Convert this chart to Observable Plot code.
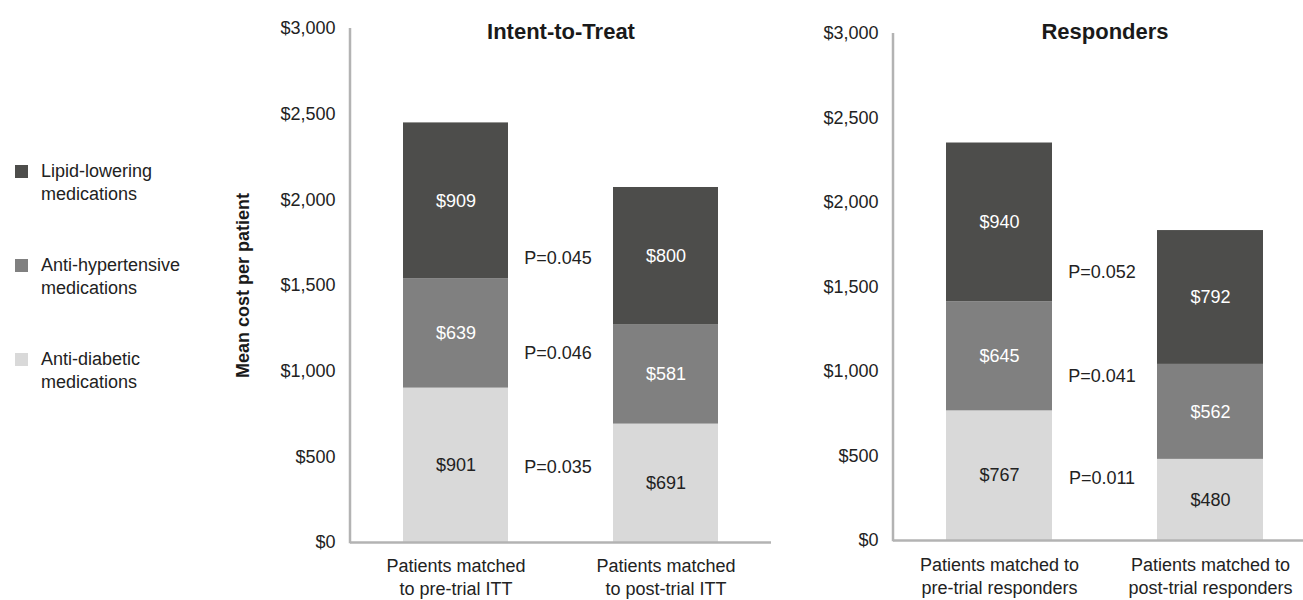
<!DOCTYPE html>
<html><head><meta charset="utf-8">
<script src="https://cdn.jsdelivr.net/npm/d3@7"></script>
<script src="https://cdn.jsdelivr.net/npm/@observablehq/plot@0.6"></script>
<style>
html,body{margin:0;padding:0;background:#fff;overflow:hidden;}
#root{position:relative;width:1303px;height:600px;font-family:"Liberation Sans",Arial,Helvetica,sans-serif;color:#222;}
.panel{position:absolute;top:0;}
.panel svg{max-width:none;display:block;}
.legend-item{position:absolute;left:0;font-size:18px;line-height:23px;color:#222;}
.sw{position:absolute;left:15px;top:5px;width:13px;height:13px;}
.lt{position:absolute;left:41px;top:0;white-space:nowrap;}
</style></head><body><div id="root"></div>
<script>
// ---- data ----
const series = ["Anti-diabetic medications", "Anti-hypertensive medications", "Lipid-lowering medications"];
const seriesColors = ["#d9d9d9", "#808080", "#4d4d4b"];
const legendOrder = ["Lipid-lowering medications", "Anti-hypertensive medications", "Anti-diabetic medications"];
const legendLines = [["Lipid-lowering", "medications"], ["Anti-hypertensive", "medications"], ["Anti-diabetic", "medications"]];

const ittGroups = ["Patients matched\nto pre-trial ITT", "Patients matched\nto post-trial ITT"];
const ittDiabetic = [901, 691];
const ittHyper = [639, 581];
const ittLipid = [909, 800];
const ittPLabels = ["P=0.045", "P=0.046", "P=0.035"];
const ittPLevels = [1658, 1103, 438];

const respGroups = ["Patients matched to\npre-trial responders", "Patients matched to\npost-trial responders"];
const respDiabetic = [767, 480];
const respHyper = [645, 562];
const respLipid = [940, 792];
const respPLabels = ["P=0.052", "P=0.041", "P=0.011"];
const respPLevels = [1586, 970, 367];

const yTicks = [0, 500, 1000, 1500, 2000, 2500, 3000];
const panelTitles = ["Intent-to-Treat", "Responders"];
const yLabel = "Mean cost per patient";

// ---- build ----
const FONT = '"Liberation Sans", Arial, Helvetica, sans-serif';
const AXIS = "#b3b3b3";
const fmt = d => "$" + d3.format(",")(d);

function rowsFor(groups, diab, hyper, lipid) {
  const rows = [];
  groups.forEach((g, i) => {
    rows.push({group: g, series: series[0], value: diab[i]});
    rows.push({group: g, series: series[1], value: hyper[i]});
    rows.push({group: g, series: series[2], value: lipid[i]});
  });
  return rows;
}

function panel({groups, rows, pLabels, pLevels, title, width, marginLeft, marginRight, marginTop, marginBottom, titleDy, xPad, withYLabel}) {
  const pData = pLabels.map((t, i) => ({text: t, y: pLevels[i]}));
  const marks = [
    Plot.barY(rows, {x: "group", y: "value", fill: "series"}),
    Plot.text(rows, Plot.stackY({x: "group", y: "value", z: "series",
      text: d => d.series === series[0] ? "" : fmt(d.value), fill: "white", fontSize: 18})),
    Plot.text(rows, Plot.stackY({x: "group", y: "value", z: "series",
      text: d => d.series === series[0] ? fmt(d.value) : "", fill: "#222", fontSize: 18})),
    Plot.ruleY([0], {stroke: AXIS, strokeWidth: 2.5}),
    (index, scales, values, dims) => d3.create("svg:line")
      .attr("x1", dims.marginLeft).attr("x2", dims.marginLeft)
      .attr("y1", scales.y(3000)).attr("y2", scales.y(0) + 1.25)
      .attr("stroke", AXIS).attr("stroke-width", 2.5).node(),
    Plot.axisY({ticks: yTicks, tickSize: 0, tickPadding: 15, tickFormat: fmt, fontSize: 18, label: null, fill: "#222"}),
    Plot.axisX({tickSize: 0, tickPadding: xPad, fontSize: 18, label: null, lineHeight: 1.25, fill: "#222"}),
    Plot.text(pData, {y: "y", text: "text", frameAnchor: "middle", dx: -3, fontSize: 18, fill: "#222"}),
    Plot.text([title], {frameAnchor: "top", dy: titleDy, fontWeight: "bold", fontSize: 22, fill: "#1a1a1a"})
  ];
  if (withYLabel) {
    marks.push(Plot.text([yLabel], {frameAnchor: "left", dx: -107, rotate: -90, textAnchor: "middle", fontWeight: "bold", fontSize: 18, fill: "#1a1a1a"}));
  }
  return Plot.plot({
    width, height: 600, marginLeft, marginRight, marginTop, marginBottom,
    style: {fontFamily: FONT, fontSize: "18px", color: "#222", background: "transparent"},
    x: {domain: groups, paddingInner: 0.5, paddingOuter: 0.25, axis: null},
    y: {domain: [0, 3000], axis: null},
    color: {domain: series, range: seriesColors},
    marks
  });
}

const root = document.getElementById("root");

const left = document.createElement("div");
left.className = "panel"; left.style.left = "0px";
left.appendChild(panel({groups: ittGroups, rows: rowsFor(ittGroups, ittDiabetic, ittHyper, ittLipid),
  pLabels: ittPLabels, pLevels: ittPLevels, title: panelTitles[0],
  width: 780, marginLeft: 350, marginRight: 9, marginTop: 28, marginBottom: 58, titleDy: -5, xPad: 14, withYLabel: true}));
root.appendChild(left);

const right = document.createElement("div");
right.className = "panel"; right.style.left = "700px";
right.appendChild(panel({groups: respGroups, rows: rowsFor(respGroups, respDiabetic, respHyper, respLipid),
  pLabels: respPLabels, pLevels: respPLevels, title: panelTitles[1],
  width: 603, marginLeft: 193, marginRight: -13, marginTop: 33, marginBottom: 60, titleDy: -10, xPad: 15, withYLabel: false}));
root.appendChild(right);

// legend
const legendTops = [160, 254, 348];
legendOrder.forEach((s, i) => {
  const item = document.createElement("div");
  item.className = "legend-item";
  item.style.top = legendTops[i] + "px";
  const sw = document.createElement("div");
  sw.className = "sw";
  sw.style.background = seriesColors[series.indexOf(s)];
  const t = document.createElement("div");
  t.className = "lt";
  t.innerHTML = legendLines[i].join("<br>");
  item.appendChild(sw); item.appendChild(t);
  root.appendChild(item);
});
</script></body></html>
